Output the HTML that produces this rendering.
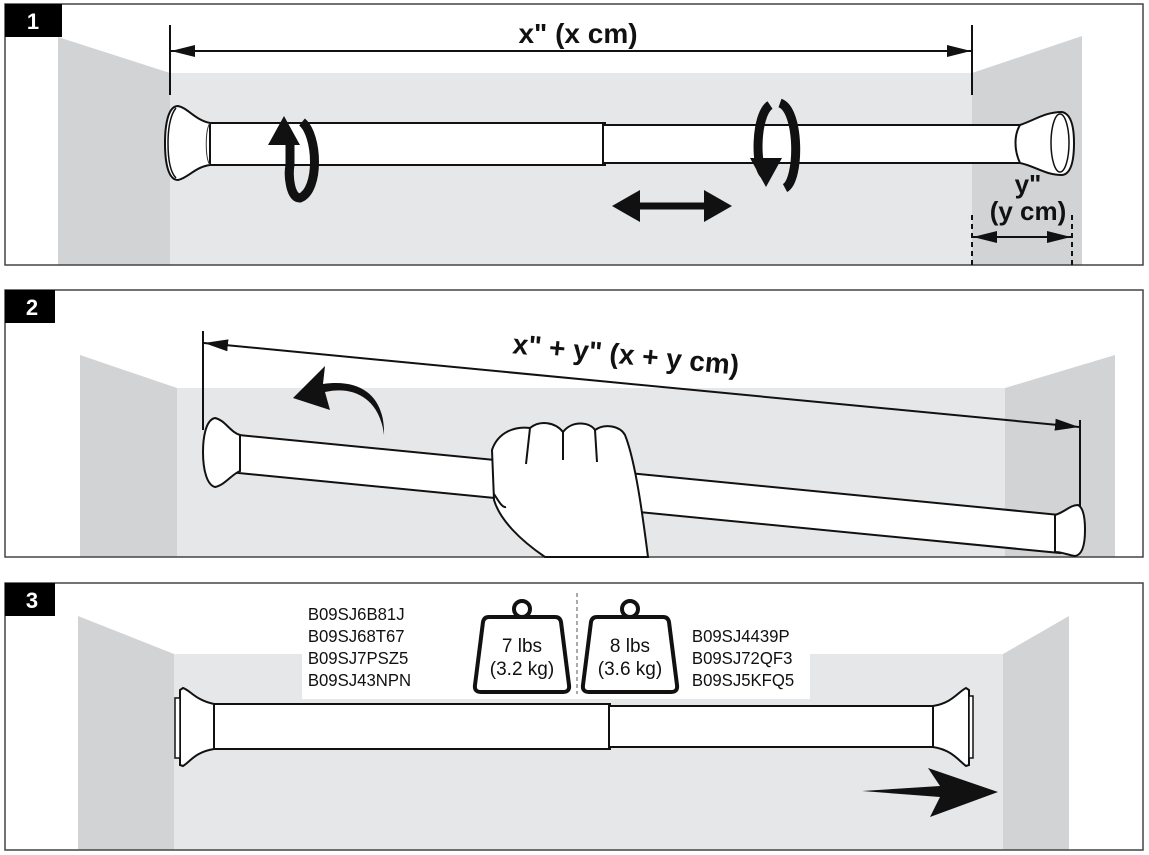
<!DOCTYPE html>
<html><head><meta charset="utf-8"><style>
html,body{margin:0;padding:0;background:#fff;}
svg{display:block;}
text{font-family:"Liberation Sans",sans-serif;}
</style></head><body>
<svg width="1149" height="855" viewBox="0 0 1149 855" xmlns="http://www.w3.org/2000/svg">
<defs>
<marker id="ah" viewBox="0 0 10 10" refX="10" refY="5" markerWidth="12" markerHeight="6" orient="auto-start-reverse" markerUnits="strokeWidth" preserveAspectRatio="none"><path d="M0,0 L10,5 L0,10 z" fill="#111"/></marker>
</defs>

<!-- PANEL 1 -->
<polygon points="58,37 170,73 170,265 58,265" fill="#d2d3d5"/>
<rect x="170" y="73" width="802" height="192" fill="#e6e7e8"/>
<polygon points="972,73 1082,36 1082,265 972,265" fill="#d2d3d5"/>
<rect x="5" y="4" width="1138" height="261" fill="none" stroke="#444" stroke-width="1.5"/>
<rect x="5" y="4" width="57" height="33" fill="#000"/>
<text x="33" y="29" fill="#fff" font-size="22" font-weight="bold" text-anchor="middle">1</text>
<line x1="170" y1="25" x2="170" y2="95" stroke="#111" stroke-width="2"/>
<line x1="972" y1="25" x2="972" y2="95" stroke="#111" stroke-width="2"/>
<line x1="171" y1="51" x2="971" y2="51" stroke="#111" stroke-width="2" marker-start="url(#ah)" marker-end="url(#ah)"/>
<text x="578" y="43" font-size="28" font-weight="bold" text-anchor="middle" fill="#111">x" (x cm)</text>
<!-- rod 1 -->
<rect x="205" y="123" width="400" height="42" fill="#fff" stroke="#111" stroke-width="2"/>
<rect x="603" y="125" width="420" height="38" fill="#fff" stroke="#111" stroke-width="2"/>
<path d="M210,123 C195,120 188,108 178,106 C168,106 165,125 165,143 C165,162 168,180 178,180 C188,178 195,167 210,165 Z" fill="#fff" stroke="#111" stroke-width="2"/>
<path d="M176,108 C170,115 168,130 168,143 C168,158 170,172 176,178" fill="none" stroke="#111" stroke-width="1.5"/>
<path d="M210,123 C205,130 205,158 210,165" fill="none" stroke="#333" stroke-width="1"/>
<path d="M1020,125 C1035,120 1045,112 1062,112 C1072,114 1074,130 1074,143 C1074,158 1072,174 1062,175 C1045,175 1035,166 1020,163 C1014,150 1014,135 1020,125 Z" fill="#fff" stroke="#111" stroke-width="2"/>
<ellipse cx="1060" cy="143" rx="9" ry="29" fill="none" stroke="#111" stroke-width="1.5"/>
<!-- rotate arrows -->
<path d="M302,122 C318,135 320,190 300,198 C290,198 288,175 290,165" fill="none" stroke="#111" stroke-width="9"/>
<path d="M290,165 L290,140" stroke="#111" stroke-width="9"/>
<polygon points="268,145 284,116 300,145" fill="#111"/>
<path d="M770,105 C755,115 755,170 765,175" fill="none" stroke="#111" stroke-width="9"/>
<polygon points="750,158 766,187 782,158" fill="#111"/>
<path d="M780,103 C800,110 800,180 785,188" fill="none" stroke="#111" stroke-width="9"/>
<!-- double arrow -->
<line x1="635" y1="206" x2="710" y2="206" stroke="#111" stroke-width="7"/>
<polygon points="612,206 640,190 640,222" fill="#111"/>
<polygon points="732,206 704,190 704,222" fill="#111"/>
<!-- y -->
<text x="1028" y="193" font-size="26" font-weight="bold" text-anchor="middle" fill="#111">y"</text>
<text x="1028" y="220" font-size="26" font-weight="bold" text-anchor="middle" fill="#111">(y cm)</text>
<line x1="972" y1="215" x2="972" y2="265" stroke="#111" stroke-width="2" stroke-dasharray="5,4"/>
<line x1="1072" y1="215" x2="1072" y2="265" stroke="#111" stroke-width="2" stroke-dasharray="5,4"/>
<line x1="973" y1="237" x2="1071" y2="237" stroke="#111" stroke-width="2" marker-start="url(#ah)" marker-end="url(#ah)"/>

<!-- PANEL 2 -->
<polygon points="80,355 177,388 177,557 80,557" fill="#d2d3d5"/>
<rect x="177" y="388" width="828" height="169" fill="#e6e7e8"/>
<polygon points="1005,388 1115,355 1115,557 1005,557" fill="#d2d3d5"/>
<rect x="5" y="290" width="1138" height="267" fill="none" stroke="#444" stroke-width="1.5"/>
<rect x="5" y="290" width="50" height="33" fill="#000"/>
<text x="32" y="315" fill="#fff" font-size="22" font-weight="bold" text-anchor="middle">2</text>
<line x1="203" y1="331" x2="203" y2="430" stroke="#111" stroke-width="2"/>
<line x1="1080" y1="420" x2="1080" y2="522" stroke="#111" stroke-width="2"/>
<line x1="204" y1="343" x2="1079" y2="427" stroke="#111" stroke-width="2" marker-start="url(#ah)" marker-end="url(#ah)"/>
<text x="625" y="364" font-size="28" font-weight="bold" text-anchor="middle" fill="#111" transform="rotate(5.4 625 364)">x" + y" (x + y cm)</text>
<!-- rod 2 -->
<polygon points="218,433 1060,515 1060,553 218,471" fill="#fff" stroke="#111" stroke-width="2"/>
<path d="M240,435 C230,432 225,420 215,418 C205,420 203,440 203,452 C203,470 207,485 215,487 C225,485 232,474 240,471 Z" fill="#fff" stroke="#111" stroke-width="2"/>
<path d="M1055,515 C1065,512 1070,505 1078,505 C1084,508 1085,520 1085,530 C1085,545 1082,555 1075,556 C1068,555 1062,552 1055,552 Z" fill="#fff" stroke="#111" stroke-width="2"/>
<!-- curved arrow -->
<path d="M384,435 C380,400 355,385 325,392 L330,410 L293,398 L325,366 L323,384 C365,378 385,400 384,435 Z" fill="#111"/>
<!-- hand -->
<path d="M545,557 C520,540 500,520 494,500 L492,450 C498,432 515,426 530,428 C540,420 555,422 563,432 C572,420 590,422 595,430 C605,423 620,426 625,435 C635,460 642,510 648,557 Z" fill="#fff" stroke="#111" stroke-width="2"/>
<line x1="530" y1="428" x2="526" y2="464" stroke="#111" stroke-width="2"/>
<line x1="563" y1="432" x2="563" y2="460" stroke="#111" stroke-width="2"/>
<line x1="595" y1="430" x2="597" y2="462" stroke="#111" stroke-width="2"/>
<path d="M494,494 C498,500 502,508 506,507" fill="none" stroke="#111" stroke-width="2"/>

<!-- PANEL 3 -->
<polygon points="78,616 174,654 174,850 78,850" fill="#d2d3d5"/>
<rect x="174" y="654" width="829" height="196" fill="#e6e7e8"/>
<polygon points="1003,654 1069,616 1069,850 1003,850" fill="#d2d3d5"/>
<rect x="302" y="600" width="508" height="99" fill="#fff"/>
<rect x="5" y="583" width="1138" height="267" fill="none" stroke="#444" stroke-width="1.5"/>
<rect x="5" y="583" width="50" height="33" fill="#000"/>
<text x="32" y="608" fill="#fff" font-size="22" font-weight="bold" text-anchor="middle">3</text>
<g font-size="18" fill="#111" transform="scale(0.93,1)">
<text x="331" y="620">B09SJ6B81J</text>
<text x="331" y="642">B09SJ68T67</text>
<text x="331" y="664">B09SJ7PSZ5</text>
<text x="331" y="686">B09SJ43NPN</text>
<text x="744" y="642">B09SJ4439P</text>
<text x="744" y="664">B09SJ72QF3</text>
<text x="744" y="686">B09SJ5KFQ5</text>
</g>
<line x1="577" y1="593" x2="577" y2="694" stroke="#555" stroke-width="1" stroke-dasharray="4,3"/>
<!-- weights -->
<circle cx="522" cy="609" r="8" fill="none" stroke="#111" stroke-width="4"/>
<path d="M489,617 L555,617 Q560,617 561,622 L569,685 Q570,692 563,692 L481,692 Q474,692 475,685 L483,622 Q484,617 489,617 Z" fill="#fff" stroke="#111" stroke-width="4"/>
<text x="522" y="652" font-size="19" text-anchor="middle" fill="#111">7 lbs</text>
<text x="522" y="675" font-size="19" text-anchor="middle" fill="#111">(3.2 kg)</text>
<circle cx="630" cy="609" r="8" fill="none" stroke="#111" stroke-width="4"/>
<path d="M597,617 L663,617 Q668,617 669,622 L677,685 Q678,692 671,692 L589,692 Q582,692 583,685 L591,622 Q592,617 597,617 Z" fill="#fff" stroke="#111" stroke-width="4"/>
<text x="630" y="652" font-size="19" text-anchor="middle" fill="#111">8 lbs</text>
<text x="630" y="675" font-size="19" text-anchor="middle" fill="#111">(3.6 kg)</text>
<!-- rod 3 -->
<rect x="214" y="704" width="396" height="45" fill="#fff" stroke="#111" stroke-width="2"/>
<rect x="609" y="706" width="324" height="41" fill="#fff" stroke="#111" stroke-width="2"/>
<path d="M214,704 C195,700 190,690 183,688 L180,690 L180,765 L183,766 C190,762 195,752 214,749 Z" fill="#fff" stroke="#111" stroke-width="2"/>
<rect x="175" y="698" width="5" height="60" fill="#fff" stroke="#111" stroke-width="1.5"/>
<path d="M933,706 C952,703 958,692 966,688 L969,690 L969,765 L966,766 C958,760 952,750 933,747 Z" fill="#fff" stroke="#111" stroke-width="2"/>
<rect x="969" y="696" width="4" height="62" fill="#fff" stroke="#111" stroke-width="1.5"/>
<!-- right arrow -->
<polygon points="862,791 940,786 928,768 998,792 930,817 940,797" fill="#111"/>
</svg>
</body></html>
